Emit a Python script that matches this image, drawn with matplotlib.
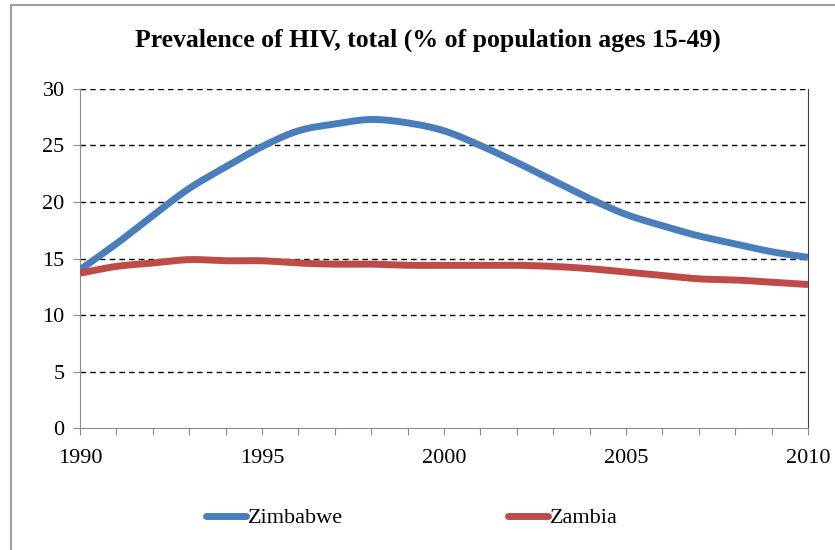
"""
HIV prevalence (% of population ages 15-49), Zimbabwe vs Zambia, 1990-2010.
"""
import numpy as np
import matplotlib.pyplot as plt
from matplotlib.lines import Line2D

years = list(range(1990, 2011))
zimbabwe = [14.0, 16.3, 18.8, 21.2, 23.1, 24.9, 26.3, 26.9, 27.3, 27.0, 26.3,
            25.0, 23.5, 21.9, 20.3, 18.9, 17.9, 17.0, 16.3, 15.6, 15.1]
zambia = [13.7, 14.3, 14.6, 14.9, 14.8, 14.8, 14.6, 14.5, 14.5, 14.4, 14.4,
          14.4, 14.4, 14.3, 14.1, 13.8, 13.5, 13.2, 13.1, 12.9, 12.7]

title = "Prevalence of HIV, total (% of population ages 15-49)"
series_names = ["Zimbabwe", "Zambia"]
colors = ["#4a7ebb", "#be4b48"]

plt.rcParams["font.family"] = ["Liberation Serif", "DejaVu Serif"]


def smooth(x, y, n=20):
    # Catmull-Rom pass through the points, like a "smoothed line" chart
    x = np.asarray(x, float)
    y = np.asarray(y, float)
    px = np.concatenate([[2 * x[0] - x[1]], x, [2 * x[-1] - x[-2]]])
    py = np.concatenate([[2 * y[0] - y[1]], y, [2 * y[-1] - y[-2]]])
    t = np.linspace(0, 1, n, endpoint=False)
    xs, ys = [], []
    for i in range(1, len(px) - 2):
        for p, out in ((px, xs), (py, ys)):
            p0, p1, p2, p3 = p[i - 1], p[i], p[i + 1], p[i + 2]
            out.extend(0.5 * (2 * p1 + (-p0 + p2) * t
                              + (2 * p0 - 5 * p1 + 4 * p2 - p3) * t ** 2
                              + (-p0 + 3 * p1 - 3 * p2 + p3) * t ** 3))
    xs.append(x[-1])
    ys.append(y[-1])
    return xs, ys


fig = plt.figure(figsize=(8.35, 5.5), dpi=100)
ax = fig.add_axes([0.0958, 0.2218, 0.8719, 0.6164])

for vals, name, c in zip([zimbabwe, zambia], series_names, colors):
    sx, sy = smooth(years, vals)
    ax.plot(sx, sy, color=c, lw=5, solid_capstyle="butt", label=name,
            zorder=3)

ax.set_xlim(1990, 2010)
ax.set_ylim(0, 30)
ax.set_yticks(range(0, 31, 5))
ax.set_xticks(years)
ax.set_xticklabels([str(y) if y % 5 == 0 else "" for y in years])

# dashed horizontal gridlines
for v in range(5, 31, 5):
    ax.axhline(v, color="black", lw=1, ls=(0, (4, 3)), zorder=1)

ax.spines["top"].set_visible(False)
ax.spines["left"].set_color("#8c8c8c")
ax.spines["bottom"].set_color("#8c8c8c")
ax.spines["right"].set_color("#404040")
ax.tick_params(axis="both", direction="out", length=5, color="#8c8c8c",
               labelsize=16, labelcolor="black")
ax.tick_params(axis="x", pad=10)
ax.tick_params(axis="y", pad=6)

fig.text(0.512, 0.927, title, ha="center", va="center", fontsize=18.5,
         fontweight="bold")

handles = [Line2D([], [], color=c, lw=5, solid_capstyle="round")
           for c in colors]
fig.legend(handles, series_names, loc="center", ncol=2,
           bbox_to_anchor=(0.493, 0.058), frameon=False, fontsize=16,
           handlelength=1.8, handletextpad=0.1, columnspacing=7.4)

# outer chart frame (top and left edges)
fig.add_artist(Line2D([0.013, 1.0], [0.991, 0.991], color="#a0a0a0",
                      lw=1.5, transform=fig.transFigure))
fig.add_artist(Line2D([0.013, 0.013], [0.0, 0.991], color="#a0a0a0",
                      lw=1.5, transform=fig.transFigure))

fig.savefig("out.png", dpi=100)
